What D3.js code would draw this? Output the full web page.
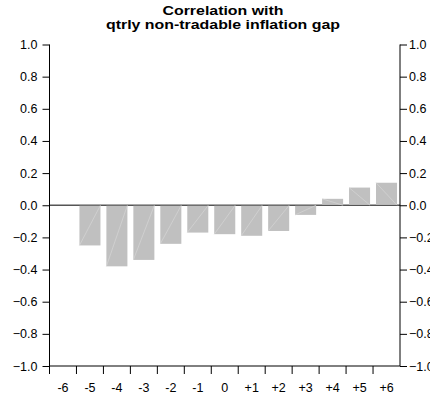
<!DOCTYPE html>
<html><head><meta charset="utf-8">
<script src="https://cdn.jsdelivr.net/npm/d3@7"></script>
<style>body{margin:0;background:#fff}svg{display:block}text{font-family:"Liberation Sans",Arial,sans-serif}</style>
</head><body><svg id="c" width="430" height="401"></svg>
<script>
const categories = ["-6","-5","-4","-3","-2","-1","0","+1","+2","+3","+4","+5","+6"];
const values = [null,-0.25,-0.38,-0.34,-0.24,-0.17,-0.18,-0.19,-0.16,-0.06,0.04,0.11,0.14];
const yTicks = [1.0,0.8,0.6,0.4,0.2,0.0,-0.2,-0.4,-0.6,-0.8,-1.0];
const titleLines = ["Correlation with","qtrly non-tradable inflation gap"];
const titleWidths = [121, 234];

const svg = d3.select("#c");
const L = 49.5, R = 400, T = 44.5, B = 366;
const x = d3.scaleBand().domain(categories).range([L, R]).paddingInner(0.22).paddingOuter(0.11);
const xb = d3.scaleBand().domain(categories).range([L, R]);
const y = d3.scaleLinear().domain([-1, 1]).range([B, T]);

// title
svg.append("g").selectAll("text").data(titleLines).join("text")
  .attr("x", 223).attr("y", (d,i) => 15 + i*14)
  .attr("text-anchor","middle").attr("font-weight","bold").attr("font-size",13.5).attr("fill","#000")
  .attr("textLength", (d,i) => titleWidths[i]).attr("lengthAdjust","spacingAndGlyphs")
  .text(d => d);

// zero line
svg.append("line").attr("x1", L).attr("x2", R).attr("y1", y(0)).attr("y2", y(0))
  .attr("stroke","#555").attr("stroke-width",1.5);

// bars
const data = categories.map((c,i) => ({c, v: values[i]})).filter(d => d.v !== null);
const bars = svg.append("g");
bars.selectAll("rect").data(data).join("rect")
  .attr("x", d => x(d.c)).attr("width", x.bandwidth())
  .attr("y", d => y(Math.max(0, d.v)) + (d.v < 0 ? 0.5 : 0))
  .attr("height", d => Math.abs(y(d.v) - y(0)) - 0.5)
  .attr("fill","#c0c0c0");
bars.selectAll("line").data(data).join("line")
  .attr("x1", d => x(d.c)).attr("x2", d => x(d.c) + x.bandwidth())
  .attr("y1", d => y(d.v))
  .attr("y2", d => y(0))
  .attr("stroke","#d6d6d6").attr("stroke-width",0.7);

// axes
const axL = d3.axisLeft(y).tickValues(yTicks).tickFormat(d3.format(".1f")).tickSize(7).tickPadding(5);
const axR = d3.axisRight(y).tickValues(yTicks).tickFormat(d3.format(".1f")).tickSize(7).tickPadding(2);
const gL = svg.append("g").attr("transform",`translate(${L},0)`).call(axL);
const gR = svg.append("g").attr("transform",`translate(${R},0)`).call(axR);
[gL,gR].forEach(g => {
  g.select(".domain").attr("d", `M0,${T}V${B}`).attr("stroke","#000");
  g.selectAll("line").attr("stroke","#000");
  g.selectAll("text").attr("font-size",12.5).attr("fill","#000").attr("font-family","'Liberation Sans',Arial,sans-serif");
});

// x axis
const gx = svg.append("g").attr("transform",`translate(0,${B})`);
gx.append("line").attr("x1",L).attr("x2",R).attr("stroke","#000");
gx.selectAll("line.tk").data(categories).join("line").attr("class","tk")
  .attr("x1", d => xb(d)).attr("x2", d => xb(d)).attr("y1",0).attr("y2",8).attr("stroke","#000");
gx.selectAll("text").data(categories).join("text")
  .attr("x", d => xb(d) + xb.bandwidth()/2).attr("y", 26)
  .attr("text-anchor","middle").attr("font-size",12.5).attr("fill","#000")
  .text(d => d);
</script></body></html>
